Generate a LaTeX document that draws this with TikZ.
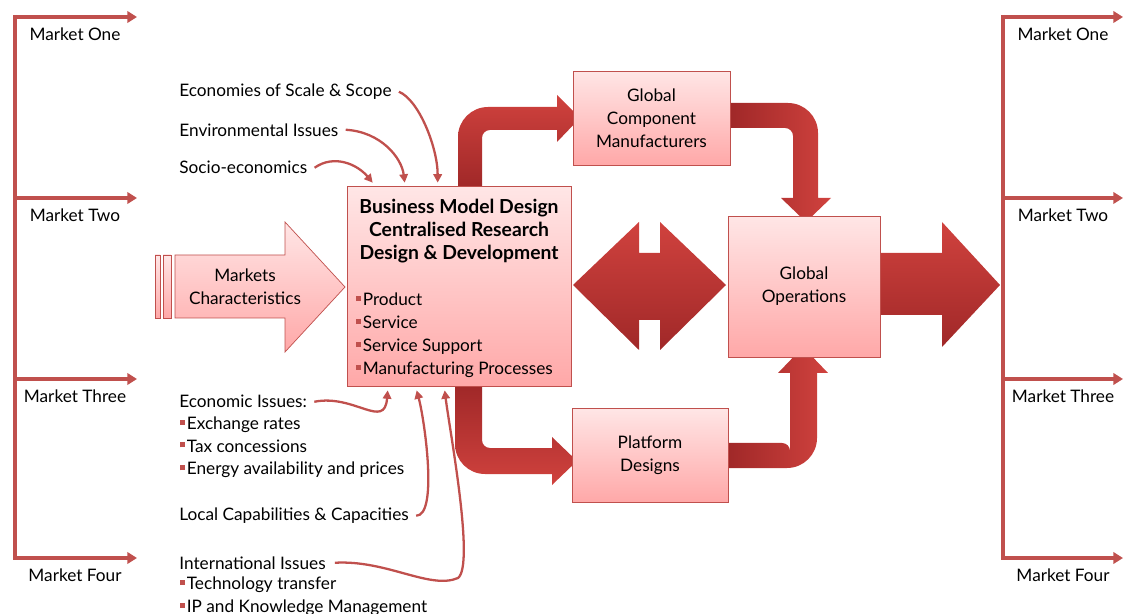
\documentclass[tikz,border=0pt]{standalone}
\usepackage{fontspec}
\setmainfont{Lato}
\usetikzlibrary{arrows.meta,calc}
\definecolor{linered}{RGB}{192,80,77}
\definecolor{boxtop}{RGB}{255,230,230}
\definecolor{boxbot}{RGB}{255,168,168}
\definecolor{arrtop}{RGB}{208,66,62}
\definecolor{arrbot}{RGB}{160,40,40}
\newcommand{\sqb}{{\color{linered}\rule[2.6pt]{2.9pt}{2.9pt}}\hspace{0.8pt}}

\begin{document}
\begin{tikzpicture}[x=0.02cm,y=-0.02cm,
  every node/.style={font=\fontsize{9.8}{13}\selectfont,inner sep=0pt},
  txt/.style={anchor=west,yshift=-1pt},
  box/.style={draw=linered,top color=boxtop,bottom color=boxbot,align=center},
  bigarr/.style={top color=arrtop,bottom color=arrbot},
  mkt/.style={draw=linered,line width=2.2pt,-{Triangle[length=5.5pt,width=6.5pt]}},
  feed/.style={draw=linered,line width=1.3pt,-{Triangle[length=4.8pt,width=4.8pt]}}]
\useasboundingbox (0,0) rectangle (1125,614);
% markets, left and right
\draw[linered,line width=2.2pt] (15,15) -- (15,560);
\draw[linered,line width=2.2pt] (1003,15) -- (1003,560);
\foreach \y/\t in {17/One,198/Two,379/Three,558/Four}{
  \draw[mkt] (15,\y) -- (137,\y);
  \draw[mkt] (1003,\y) -- (1123,\y);
  \node (ml\t) at (75,\y+17) {Market \t};
  \node (mr\t) at (1063,\y+17) {Market \t};
}
% markets characteristics
\draw[linered,top color=boxtop,bottom color=boxbot] (155,255) rectangle (160,318);
\draw[linered,top color=boxtop,bottom color=boxbot] (163,255) rectangle (171,318);
\draw[linered,top color=boxtop,bottom color=boxbot] (175,255) -- (285,255) -- (285,222) -- (345,287) -- (285,352) -- (285,318) -- (175,318) -- cycle;
\node[align=center] (mktchar) at (245,287) {Markets\\Characteristics};
% big arrows
\path[bigarr] (458,187) -- (458,137) arc[start angle=180,end angle=270,radius=30] -- (557,107) -- (557,95) -- (580,118) -- (557,142) -- (557,130) -- (490,130) arc[start angle=270,end angle=180,radius=8] -- (482,187) -- cycle;
\path[top color=arrbot,bottom color=arrtop] (455,385) -- (455,444) arc[start angle=180,end angle=90,radius=30] -- (552,474) -- (552,485) -- (577,461) -- (552,437) -- (552,448) -- (490,448) arc[start angle=90,end angle=180,radius=8] -- (482,385) -- cycle;
\path[left color=arrbot,right color=arrtop] (730,103) -- (788,103) arc[start angle=270,end angle=360,radius=30] -- (818,198) -- (831,198) -- (806,222) -- (781,198) -- (793,198) -- (793,136) arc[start angle=0,end angle=-90,radius=8] -- (730,128) -- cycle;
\path[left color=arrbot,right color=arrtop] (728,468) -- (787,468) arc[start angle=90,end angle=0,radius=30] -- (817,373) -- (828,373) -- (803,347) -- (778,373) -- (790,373) -- (790,451) arc[start angle=0,end angle=-90,radius=8] -- (728,443) -- cycle;
\path[bigarr] (573,285) -- (639,222) -- (639,253) -- (660,253) -- (660,222) -- (726,285) -- (660,350) -- (660,320) -- (639,320) -- (639,350) -- cycle;
\path[bigarr] (880,253) -- (942,253) -- (942,222) -- (1000,285) -- (942,347) -- (942,315) -- (880,315) -- cycle;
% boxes
\node[box,minimum width=4.48cm,minimum height=4cm] (core) at (459,286) {};
\node[font=\bfseries\fontsize{11}{13}\selectfont,align=center] (coretitle) at (459,231) {Business Model Design\\Centralised Research\\Design \& Development};
\node[txt,align=left] (corelist) at (356,333.5) {\sqb Product\\\sqb Service\\\sqb Service Support\\\sqb Manufacturing Processes};
\node[box,minimum width=3.14cm,minimum height=1.88cm] (gcm) at (651.5,118) {Global\\Component\\Manufacturers};
\node[box,minimum width=3.04cm,minimum height=2.82cm] (globops) at (804,286.5) {Global\\Operations};
\node[box,minimum width=3.12cm,minimum height=1.88cm] (platform) at (650,455) {Platform\\Designs};
% influences
\node[txt] (scale) at (179,90) {Economies of Scale \& Scope};
\node[txt] (enviro) at (179,128) {Environmental Issues};
\node[txt] (socio) at (179,166) {Socio-economics};
\node[txt] (econ) at (179,400) {Economic Issues:};
\node[txt,align=left] (econlist) at (180,445.5) {\sqb Exchange rates\\\sqb Tax concessions\\\sqb Energy availability and prices};
\node[txt] (localcap) at (179,514) {Local Capabilities \& Capacities};
\node[txt] (intl) at (179,561) {International Issues};
\node[txt,align=left] (intllist) at (180,594.5) {\sqb Technology transfer\\\sqb IP and Knowledge Management};
\coordinate (intlbend) at (458,578);
\draw[feed] ([xshift=4pt]scale.east) .. controls +(20,8) and +(0,-35) .. ($(core.north west)+(91,-3)$);
\draw[feed] ([xshift=4pt]enviro.east) .. controls +(35,2) and +(-3,-25) .. ($(core.north west)+(58,-3)$);
\draw[feed] ([xshift=4pt]socio.east) .. controls +(20,-14) and +(-15,-18) .. ($(core.north west)+(26,-3)$);
\draw[feed] ([xshift=4pt]econ.east) .. controls +(40,-8) and +(-3,40) .. ($(core.south west)+(41,4)$);
\draw[feed] ([xshift=4pt]localcap.east) .. controls +(22,0) and +(8,30) .. ($(core.south west)+(70,4)$);
\draw[feed] ([xshift=5pt]intl.east) .. controls +(52,-3) and +(-28,12) .. (intlbend) .. controls +(17,-13) and +(5,40) .. ($(core.south west)+(98,4)$);
\end{tikzpicture}
\end{document}
